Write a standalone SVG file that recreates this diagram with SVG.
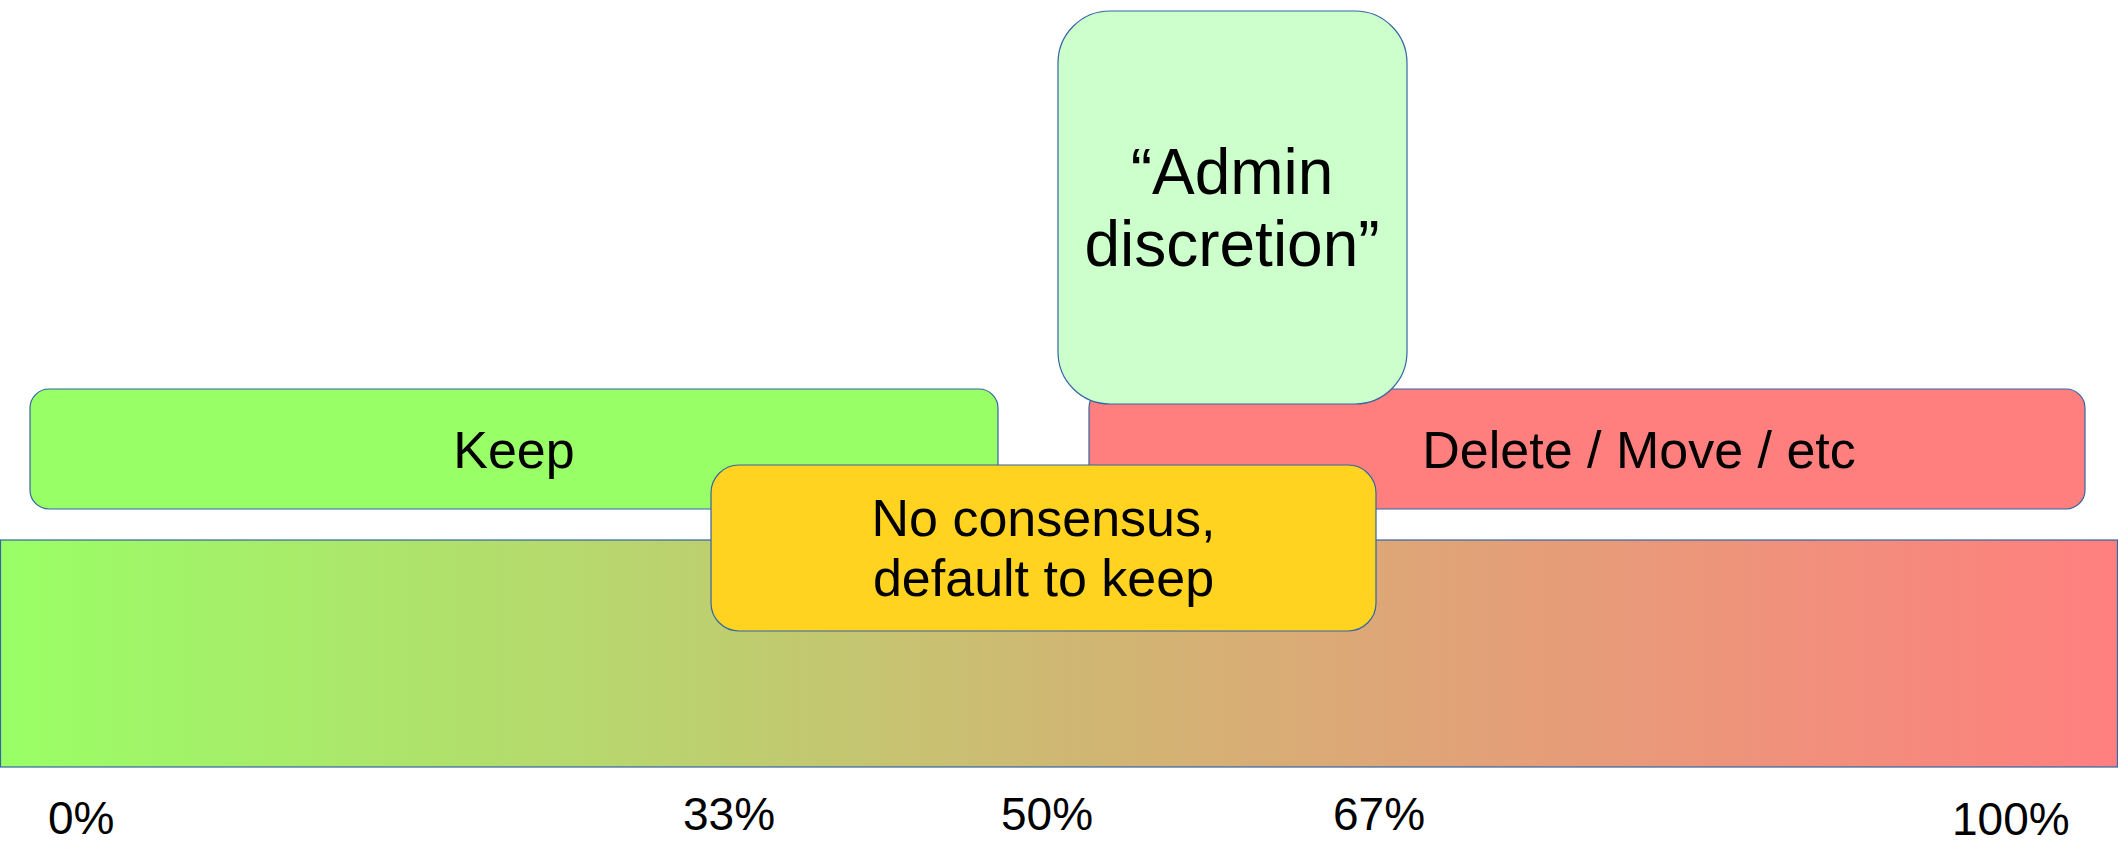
<svg xmlns="http://www.w3.org/2000/svg" width="2118" height="842" viewBox="0 0 2118 842">
  <style>
    .box { stroke: #3465a4; stroke-width: 1.2; }
    .lbl { font-family: "Liberation Sans", Arial, sans-serif; fill: #000000; }
    .big { font-size: 52px; }
    .admin { font-size: 64px; }
    .pct { font-size: 46px; }
  </style>
  <defs>
    <linearGradient id="scale" x1="0" y1="0" x2="1" y2="0">
      <stop offset="0" stop-color="#99ff66"/>
      <stop offset="0.5" stop-color="#cfb873"/>
      <stop offset="1" stop-color="#ff7f7f"/>
    </linearGradient>
  </defs>
  <rect width="2118" height="842" fill="#ffffff"/>

  <g id="keep">
    <rect class="box" x="30" y="389" width="968" height="120" rx="19" ry="19" fill="#99ff66"/>
    <text class="lbl big" x="514" y="468" text-anchor="middle">Keep</text>
  </g>

  <g id="delete">
    <rect class="box" x="1089" y="389" width="996" height="120" rx="19" ry="19" fill="#ff7f7f"/>
    <text class="lbl big" x="1639" y="468" text-anchor="middle">Delete / Move / etc</text>
  </g>

  <g id="scale-bar">
    <rect class="box" x="0.5" y="540" width="2117" height="227" fill="url(#scale)"/>
  </g>

  <g id="admin-discretion">
    <rect class="box" x="1058" y="11" width="349" height="393" rx="52" ry="52" fill="#ccffcc"/>
    <text class="lbl admin" x="1232" y="194" text-anchor="middle">“Admin</text>
    <text class="lbl admin" x="1232" y="266" text-anchor="middle">discretion”</text>
  </g>

  <g id="no-consensus">
    <rect class="box" x="711" y="465" width="665" height="166" rx="28" ry="28" fill="#ffd320"/>
    <text class="lbl big" x="1043.5" y="536" text-anchor="middle">No consensus,</text>
    <text class="lbl big" x="1043.5" y="596" text-anchor="middle">default to keep</text>
  </g>

  <g id="labels">
    <text class="lbl pct" x="48" y="834">0%</text>
    <text class="lbl pct" x="683" y="830">33%</text>
    <text class="lbl pct" x="1001" y="830">50%</text>
    <text class="lbl pct" x="1333" y="830">67%</text>
    <text class="lbl pct" x="1952" y="835">100%</text>
  </g>

  <g id="connectors"/>
</svg>
